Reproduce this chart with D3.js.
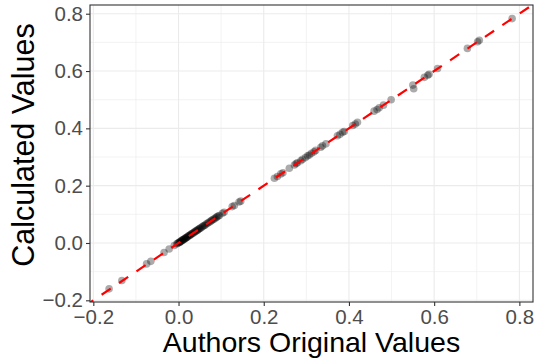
<!DOCTYPE html>
<html>
<head>
<meta charset="utf-8">
<script src="https://cdn.jsdelivr.net/npm/d3@7"></script>
<style>
  body { margin: 0; background: #fff; }
  text { font-family: "Liberation Sans", Arial, sans-serif; }
</style>
</head>
<body>
<div id="chart"></div>
<script>
// values
var originalValues = [-0.163, -0.133, -0.075, -0.065, -0.034, -0.022, -0.010, -0.004,
  -0.002, 0.000, 0.002, 0.003, 0.005, 0.006, 0.008, 0.009, 0.011, 0.012, 0.014, 0.015,
  0.017, 0.018, 0.020, 0.021, 0.023, 0.025, 0.027, 0.028, 0.030, 0.032, 0.034, 0.036,
  0.038, 0.040, 0.042, 0.044, 0.046, 0.048, 0.050, 0.052, 0.055, 0.057, 0.060, 0.062,
  0.065, 0.068, 0.071, 0.074, 0.077, 0.079, 0.082, 0.085, 0.088, 0.090, 0.093, 0.096,
  0.103, 0.107, 0.126, 0.131, 0.142, 0.146, 0.225, 0.232, 0.240, 0.245, 0.260, 0.272,
  0.276, 0.279, 0.287, 0.291, 0.298, 0.303, 0.307, 0.312, 0.318, 0.322, 0.334, 0.338,
  0.346, 0.373, 0.379, 0.385, 0.389, 0.409, 0.415, 0.420, 0.459, 0.466, 0.471, 0.481,
  0.499, 0.550, 0.552, 0.577, 0.585, 0.588, 0.608, 0.678, 0.702, 0.706, 0.783];
var calculatedValues = [-0.160, -0.131, -0.073, -0.064, -0.033, -0.021, -0.009, -0.003,
  -0.001, 0.001, 0.002, 0.003, 0.006, 0.006, 0.009, 0.009, 0.012, 0.012, 0.015, 0.015,
  0.018, 0.018, 0.021, 0.021, 0.024, 0.026, 0.028, 0.028, 0.031, 0.033, 0.035, 0.036,
  0.039, 0.041, 0.043, 0.044, 0.047, 0.049, 0.051, 0.052, 0.056, 0.058, 0.061, 0.062,
  0.066, 0.069, 0.072, 0.074, 0.078, 0.080, 0.083, 0.085, 0.089, 0.091, 0.094, 0.096,
  0.104, 0.107, 0.127, 0.131, 0.143, 0.146, 0.226, 0.232, 0.241, 0.245, 0.261, 0.272,
  0.277, 0.280, 0.287, 0.292, 0.298, 0.304, 0.307, 0.313, 0.318, 0.323, 0.334, 0.339,
  0.346, 0.374, 0.379, 0.386, 0.389, 0.410, 0.415, 0.421, 0.460, 0.466, 0.472, 0.481,
  0.500, 0.551, 0.538, 0.578, 0.585, 0.589, 0.609, 0.679, 0.702, 0.707, 0.783];
var tickValues = [-0.2, 0.0, 0.2, 0.4, 0.6, 0.8];
var minorValues = [-0.1, 0.1, 0.3, 0.5, 0.7];
var xTitle = "Authors Original Values";
var yTitle = "Calculated Values";

var W = 536, H = 363;
var panel = {left: 90, right: 533, top: 5, bottom: 302};

var x = d3.scaleLinear().domain([-0.2078, 0.832]).range([panel.left, panel.right]);
var y = d3.scaleLinear().domain([-0.2059, 0.8304]).range([panel.bottom, panel.top]);

var svg = d3.select("#chart").append("svg")
  .attr("width", W)
  .attr("height", H);

// grid
var grid = svg.append("g");
grid.selectAll(".vminor").data(minorValues).enter().append("line")
  .attr("x1", function(d){return x(d);}).attr("x2", function(d){return x(d);})
  .attr("y1", panel.top).attr("y2", panel.bottom)
  .style("stroke", "#ebebeb").style("stroke-width", "0.6px");
grid.selectAll(".hminor").data(minorValues).enter().append("line")
  .attr("y1", function(d){return y(d);}).attr("y2", function(d){return y(d);})
  .attr("x1", panel.left).attr("x2", panel.right)
  .style("stroke", "#ebebeb").style("stroke-width", "0.6px");
grid.selectAll(".vmajor").data(tickValues).enter().append("line")
  .attr("x1", function(d){return x(d);}).attr("x2", function(d){return x(d);})
  .attr("y1", panel.top).attr("y2", panel.bottom)
  .style("stroke", "#ebebeb").style("stroke-width", "1.1px");
grid.selectAll(".hmajor").data(tickValues).enter().append("line")
  .attr("y1", function(d){return y(d);}).attr("y2", function(d){return y(d);})
  .attr("x1", panel.left).attr("x2", panel.right)
  .style("stroke", "#ebebeb").style("stroke-width", "1.1px");

svg.append("clipPath").attr("id", "clip").append("rect")
  .attr("x", panel.left).attr("y", panel.top)
  .attr("width", panel.right - panel.left).attr("height", panel.bottom - panel.top);

var plot = svg.append("g").attr("clip-path", "url(#clip)");

// points
plot.selectAll(".pt")
  .data(originalValues)
  .enter()
  .append("circle")
  .attr("cx", function(d){return x(d);})
  .attr("cy", function(d, i){return y(calculatedValues[i]);})
  .attr("r", 3.8)
  .style("fill", "#000")
  .style("fill-opacity", 0.33);

// y = x reference line
var lo = x.domain()[0], hi = x.domain()[1];
plot.append("line")
  .attr("x1", x(lo)).attr("y1", y(lo))
  .attr("x2", x(hi)).attr("y2", y(hi))
  .style("stroke", "#ff0000")
  .style("stroke-width", "2.2px")
  .style("stroke-dasharray", "11,10")
  .style("stroke-dashoffset", "7");

// panel border
svg.append("rect")
  .attr("x", panel.left).attr("y", panel.top)
  .attr("width", panel.right - panel.left).attr("height", panel.bottom - panel.top)
  .style("fill", "none").style("stroke", "#333333").style("stroke-width", "1.1px");

// axes
var xAxis = svg.append("g")
  .attr("transform", "translate(0," + panel.bottom + ")")
  .call(d3.axisBottom(x).tickValues(tickValues).tickFormat(d3.format(".1f")).tickSize(4).tickPadding(3));
var yAxis = svg.append("g")
  .attr("transform", "translate(" + panel.left + ",0)")
  .call(d3.axisLeft(y).tickValues(tickValues).tickFormat(d3.format(".1f")).tickSize(4).tickPadding(3));

[xAxis, yAxis].forEach(function(a){
  a.select(".domain").remove();
  a.selectAll(".tick line").style("stroke", "#333333").style("stroke-width", "1.1px");
  a.selectAll(".tick text")
    .style("fill", "#4d4d4d")
    .style("font-size", "20.5px")
    .style("font-family", "'Liberation Sans', Arial, sans-serif")
    .text(function(d){return d3.format(".1f")(d).replace("-", "\u2212");});
});

// titles
svg.append("text")
  .attr("x", (panel.left + panel.right) / 2)
  .attr("y", 352)
  .attr("text-anchor", "middle")
  .style("font-size", "28.5px")
  .style("fill", "#000")
  .text(xTitle);

svg.append("text")
  .attr("transform", "translate(33.5,145) rotate(-90)")
  .attr("text-anchor", "middle")
  .style("font-size", "30.5px")
  .style("fill", "#000")
  .text(yTitle);
</script>
</body>
</html>
